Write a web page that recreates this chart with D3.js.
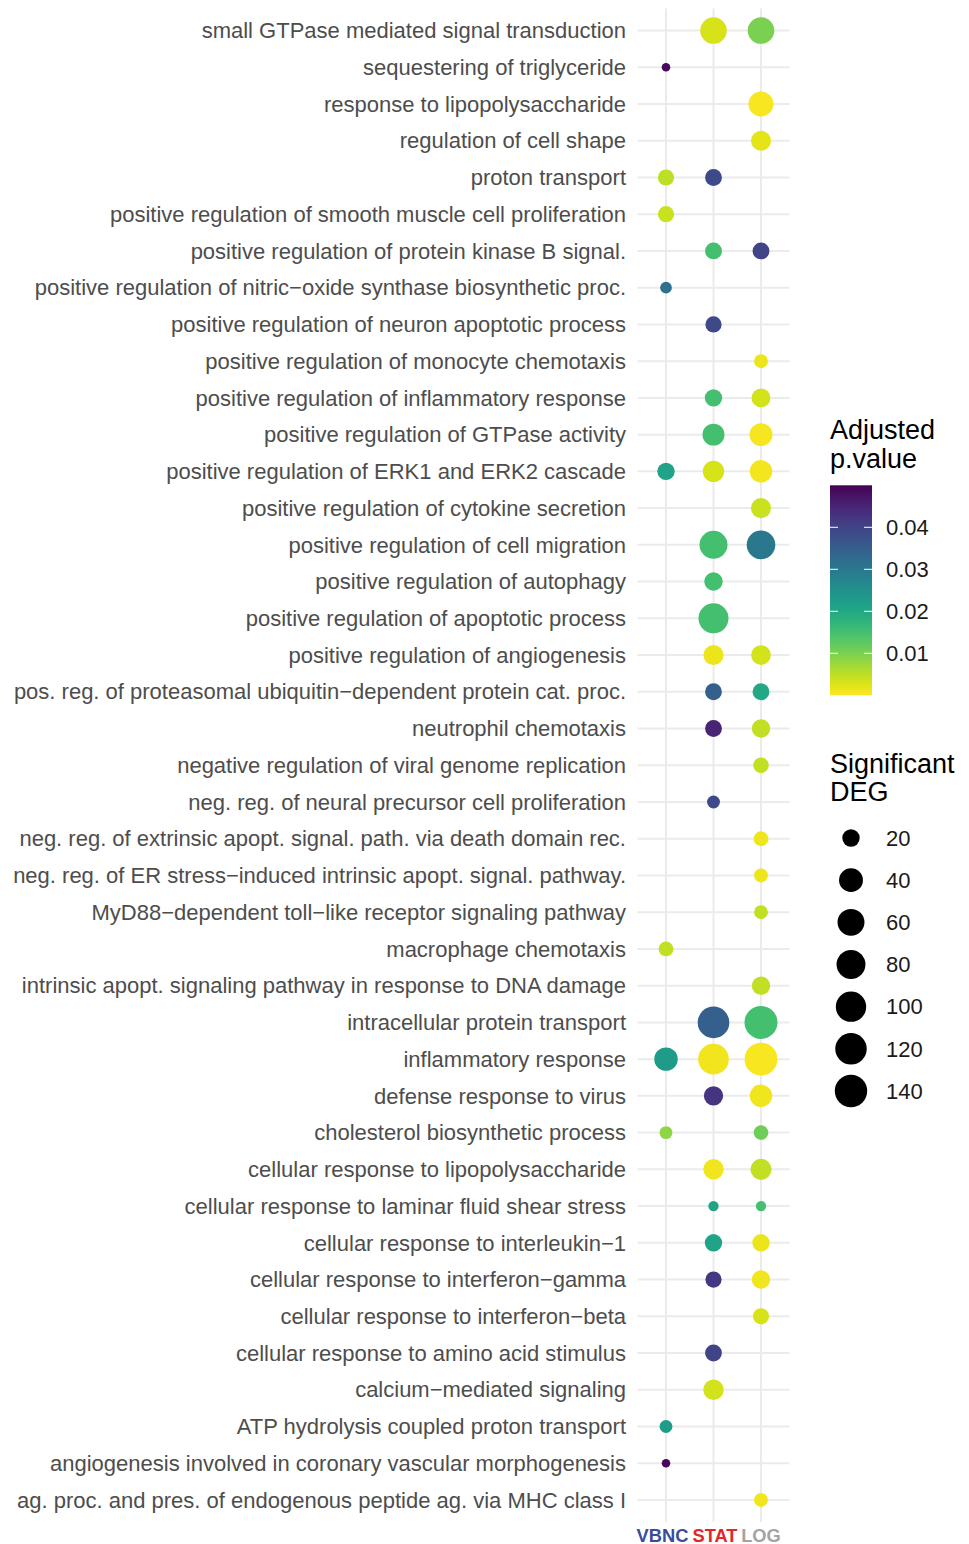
<!DOCTYPE html>
<html>
<head>
<meta charset="utf-8">
<script src="https://cdn.jsdelivr.net/npm/d3@7"></script>
<style>
  body { margin: 0; background: #fff; }
  svg { display: block; font-family: "Liberation Sans", Arial, Helvetica, sans-serif; }
</style>
</head>
<body>
<svg width="969" height="1544"></svg>
<script>
// GO terms, top to bottom
var terms = [
  "small GTPase mediated signal transduction",
  "sequestering of triglyceride",
  "response to lipopolysaccharide",
  "regulation of cell shape",
  "proton transport",
  "positive regulation of smooth muscle cell proliferation",
  "positive regulation of protein kinase B signal.",
  "positive regulation of nitric\u2212oxide synthase biosynthetic proc.",
  "positive regulation of neuron apoptotic process",
  "positive regulation of monocyte chemotaxis",
  "positive regulation of inflammatory response",
  "positive regulation of GTPase activity",
  "positive regulation of ERK1 and ERK2 cascade",
  "positive regulation of cytokine secretion",
  "positive regulation of cell migration",
  "positive regulation of autophagy",
  "positive regulation of apoptotic process",
  "positive regulation of angiogenesis",
  "pos. reg. of proteasomal ubiquitin\u2212dependent protein cat. proc.",
  "neutrophil chemotaxis",
  "negative regulation of viral genome replication",
  "neg. reg. of neural precursor cell proliferation",
  "neg. reg. of extrinsic apopt. signal. path. via death domain rec.",
  "neg. reg. of ER stress\u2212induced intrinsic apopt. signal. pathway.",
  "MyD88\u2212dependent toll\u2212like receptor signaling pathway",
  "macrophage chemotaxis",
  "intrinsic apopt. signaling pathway in response to DNA damage",
  "intracellular protein transport",
  "inflammatory response",
  "defense response to virus",
  "cholesterol biosynthetic process",
  "cellular response to lipopolysaccharide",
  "cellular response to laminar fluid shear stress",
  "cellular response to interleukin\u22121",
  "cellular response to interferon\u2212gamma",
  "cellular response to interferon\u2212beta",
  "cellular response to amino acid stimulus",
  "calcium\u2212mediated signaling",
  "ATP hydrolysis coupled proton transport",
  "angiogenesis involved in coronary vascular morphogenesis",
  "ag. proc. and pres. of endogenous peptide ag. via MHC class I"
];

var conditions = ["VBNC", "STAT", "LOG"];
var conditionColors = ["#3b4b9e", "#e3262b", "#a3a3a3"];

// significant DEG count per term (null = not enriched)
var vbncDeg = [null, 11, null, null, 18, 18, null, 13, null, null,
  null, null, 20, null, null, null, null, null, null, null,
  null, null, null, null, null, 16, null, null, 38, null,
  14, null, null, null, null, null, null, null, 14, 11,
  null];
var vbncPadj = [null, 0.0485, null, null, 0.005, 0.004, null, 0.0315, null, null,
  null, null, 0.021, null, null, null, null, null, null, null,
  null, null, null, null, null, 0.0045, null, null, 0.0225, null,
  0.0085, null, null, null, null, null, null, null, 0.0225, 0.049,
  null];

var statDeg = [57, null, null, null, 19, null, 19, null, 18, null,
  20, 32, 30, null, 70, 22, 95, 26, 19, 19,
  null, 14, null, null, null, null, null, 123, 105, 24,
  null, 27, 12, 20, 18, null, 19, 27, null, null,
  null];
var statPadj = [0.003, null, null, null, 0.039, null, 0.015, null, 0.039, null,
  0.015, 0.015, 0.003, null, 0.015, 0.015, 0.015, 0.0015, 0.035, 0.045,
  null, 0.039, null, null, null, null, null, 0.035, 0.001, 0.0425,
  null, 0.001, 0.021, 0.021, 0.042, null, 0.04, 0.0035, null, null,
  null];

var logDeg = [57, null, 46, 26, null, null, 19, null, null, 15,
  23, 36, 34, 26, 77, null, null, 25, 19, 22,
  17, null, 16, 15, 15, null, 22, 155, 150, 34,
  16, 29, 12, 20, 22, 18, null, null, null, null,
  15];
var logPadj = [0.01, null, 0.0005, 0.002, null, null, 0.04, null, null, 0.0015,
  0.0035, 0.0007, 0.0008, 0.004, 0.03, null, null, 0.0035, 0.02, 0.0045,
  0.0045, null, 0.0012, 0.0012, 0.0045, null, 0.0045, 0.015, 0.0005, 0.001,
  0.011, 0.0045, 0.015, 0.0015, 0.001, 0.003, null, null, null, null,
  0.001];

var pTicks = [0.01, 0.02, 0.03, 0.04];
var degTicks = [20, 40, 60, 80, 100, 120, 140];

var svg = d3.select("svg");

var x = d3.scalePoint().domain(conditions).range([637.5, 789.5]).padding(0.6);
var y = d3.scalePoint().domain(terms).range([8.5, 1522]).padding(0.6);
var color = d3.scaleSequential(d3.interpolateViridis).domain([0.05, 0]);
var area = d3.scaleLog().domain([20, 140]).range([8.7 * 8.7, 16.2 * 16.2]);
function radius(v) { return Math.sqrt(area(v)); }

// build long table
var degs = [vbncDeg, statDeg, logDeg], pads = [vbncPadj, statPadj, logPadj];
var points = [];
conditions.forEach(function(c, j) {
  terms.forEach(function(t, i) {
    if (degs[j][i] != null) points.push({term: t, cond: c, deg: degs[j][i], p: pads[j][i]});
  });
});

var g = svg.append("g");

// grid
g.selectAll(".hgrid").data(terms).enter().append("line")
  .attr("x1", 637.5).attr("x2", 789.5)
  .attr("y1", function(d) { return y(d); }).attr("y2", function(d) { return y(d); })
  .attr("stroke", "#ebebeb").attr("stroke-width", 2);
g.selectAll(".vgrid").data(conditions).enter().append("line")
  .attr("y1", 8.5).attr("y2", 1522)
  .attr("x1", function(d) { return x(d); }).attr("x2", function(d) { return x(d); })
  .attr("stroke", "#ebebeb").attr("stroke-width", 2);

// y labels
g.selectAll(".ylab").data(terms).enter().append("text")
  .attr("x", 626)
  .attr("y", function(d) { return y(d); })
  .attr("dy", "0.35em")
  .attr("text-anchor", "end")
  .attr("font-size", 22)
  .attr("fill", "#4d4d4d")
  .text(function(d) { return d; });

// x labels (coloured, bold)
g.selectAll(".xlab").data(conditions).enter().append("text")
  .attr("x", function(d) { return x(d); })
  .attr("dx", function(d, i) { return i === 0 ? -3.5 : (i === 1 ? 1.5 : 0); })
  .attr("y", 1542)
  .attr("text-anchor", "middle")
  .attr("font-size", 18.3)
  .attr("font-weight", "bold")
  .attr("fill", function(d, i) { return conditionColors[i]; })
  .text(function(d) { return d; });

// dots
g.selectAll(".dot").data(points).enter().append("circle")
  .attr("cx", function(d) { return x(d.cond); })
  .attr("cy", function(d) { return y(d.term); })
  .attr("r", function(d) { return radius(d.deg); })
  .attr("fill", function(d) { return color(d.p); });

// colour legend
var leg = svg.append("g");
leg.append("text").attr("x", 830).attr("y", 439).attr("font-size", 27).attr("fill", "#000").text("Adjusted");
leg.append("text").attr("x", 830).attr("y", 467.5).attr("font-size", 27).attr("fill", "#000").text("p.value");

var cb = d3.scaleLinear().domain([0, 0.05]).range([695.3, 485.3]);
var defs = svg.append("defs");
var grad = defs.append("linearGradient").attr("id", "cbar")
  .attr("x1", 0).attr("y1", 1).attr("x2", 0).attr("y2", 0);
d3.range(0, 1.0001, 0.05).forEach(function(t) {
  grad.append("stop").attr("offset", t).attr("stop-color", color(t * 0.05));
});
leg.append("rect").attr("x", 830).attr("y", 485.3).attr("width", 42).attr("height", 210)
  .attr("fill", "url(#cbar)");
pTicks.forEach(function(p) {
  leg.append("line").attr("x1", 830).attr("x2", 838).attr("y1", cb(p)).attr("y2", cb(p))
    .attr("stroke", "#fff").attr("stroke-width", 1);
  leg.append("line").attr("x1", 864).attr("x2", 872).attr("y1", cb(p)).attr("y2", cb(p))
    .attr("stroke", "#fff").attr("stroke-width", 1);
  leg.append("text").attr("x", 886).attr("y", cb(p)).attr("dy", "0.35em")
    .attr("font-size", 22).attr("fill", "#1a1a1a").text(p.toFixed(2));
});

// size legend
leg.append("text").attr("x", 830).attr("y", 772.5).attr("font-size", 27).attr("fill", "#000").text("Significant");
leg.append("text").attr("x", 830).attr("y", 801).attr("font-size", 27).attr("fill", "#000").text("DEG");
var sy = d3.scalePoint().domain(degTicks).range([838, 1091]);
leg.selectAll(".skey").data(degTicks).enter().append("circle")
  .attr("cx", 851).attr("cy", function(d) { return sy(d); })
  .attr("r", function(d) { return radius(d); })
  .attr("fill", "#000");
leg.selectAll(".slab").data(degTicks).enter().append("text")
  .attr("x", 886).attr("y", function(d) { return sy(d); }).attr("dy", "0.35em")
  .attr("font-size", 22).attr("fill", "#1a1a1a").text(function(d) { return d; });
</script>
</body>
</html>
